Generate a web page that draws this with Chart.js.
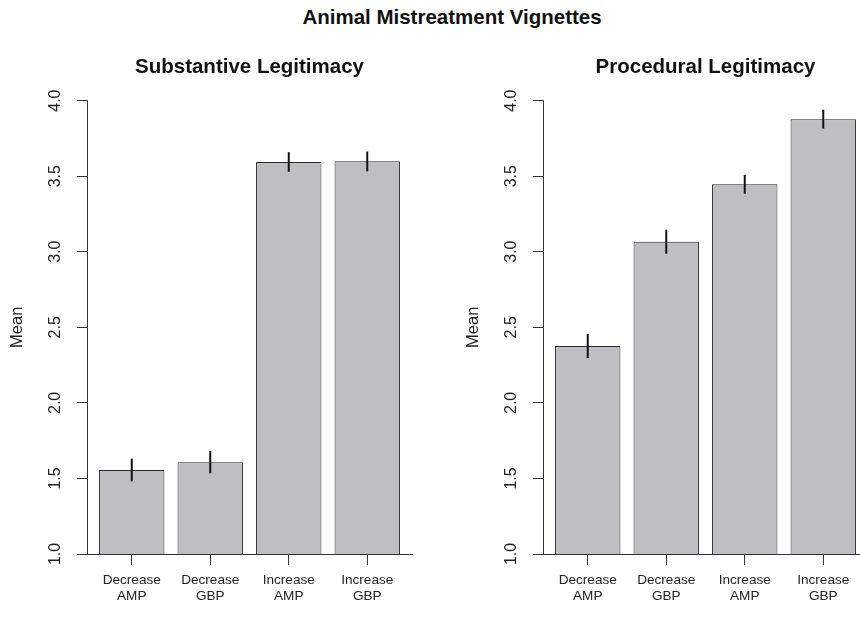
<!DOCTYPE html>
<html>
<head>
<meta charset="utf-8">
<script src="https://cdn.jsdelivr.net/npm/chart.js@4"></script>
<style>
  body { margin: 0; width: 860px; height: 622px; overflow: hidden; background: #fff; position: relative; }
  #mainTitle { position: absolute; left: 0; width: 904px; top: 7px; text-align: center;
    font: bold 20.5px "Liberation Sans", Arial, sans-serif; line-height: 20.5px; color: #111; white-space: nowrap; }
  canvas { position: absolute; top: 0; }
  #substantive { left: 0; }
  #procedural { left: 456px; }
</style>
</head>
<body>
<div id="mainTitle">Animal Mistreatment Vignettes</div>
<canvas id="substantive" width="430" height="622"></canvas>
<canvas id="procedural" width="430" height="622"></canvas>
<script>
const categories = [['Decrease', 'AMP'], ['Decrease', 'GBP'], ['Increase', 'AMP'], ['Increase', 'GBP']];
const meanTicks = [1, 1.5, 2, 2.5, 3, 3.5, 4];

const substantiveMeans = [1.556, 1.607, 3.594, 3.598];
const substantiveLower = [1.481, 1.534, 3.529, 3.532];
const substantiveUpper = [1.631, 1.681, 3.659, 3.663];

const proceduralMeans = [2.377, 3.066, 3.446, 3.876];
const proceduralLower = [2.296, 2.987, 3.384, 3.815];
const proceduralUpper = [2.457, 3.146, 3.508, 3.940];

const FONT = '"Liberation Sans", Arial, sans-serif';
const AXIS = '#333';

// vertical error lines on top of each bar
const errorBars = {
    id: 'errorBars',
    afterDatasetsDraw(chart, args, opts) {
        const ctx = chart.ctx;
        const y = chart.scales.y;
        const meta = chart.getDatasetMeta(0);
        ctx.save();
        ctx.strokeStyle = '#111';
        ctx.lineWidth = 2;
        meta.data.forEach((bar, i) => {
            ctx.beginPath();
            ctx.moveTo(bar.x, y.getPixelForValue(opts.lower[i]));
            ctx.lineTo(bar.x, y.getPixelForValue(opts.upper[i]));
            ctx.stroke();
        });
        ctx.restore();
    }
};

function makePanel(id, title, means, lower, upper) {
    const ctx = document.getElementById(id).getContext('2d');
    new Chart(ctx, {
        type: 'bar',
        data: {
            datasets: [{
                data: means.map((m, i) => ({ x: i + 1, y: m })),
                backgroundColor: '#bebfc3',
                borderColor: '#2a2a2a',
                borderWidth: 1,
                borderSkipped: false,
                barPercentage: 1 / 1.2,
                categoryPercentage: 1
            }]
        },
        options: {
            responsive: false,
            devicePixelRatio: 1,
            animation: false,
            layout: { padding: { left: 0, right: 18, top: 0, bottom: 0 } },
            plugins: {
                legend: { display: false },
                tooltip: { enabled: false },
                title: {
                    display: true,
                    text: title,
                    fullSize: false,
                    color: '#111',
                    font: { family: FONT, size: 20.5, weight: 'bold', lineHeight: 1.2 },
                    padding: { top: 55, bottom: 21 }
                },
                errorBars: { lower: lower, upper: upper }
            },
            scales: {
                x: {
                    type: 'linear',
                    min: 0.43,
                    max: 4.57,
                    offset: false,
                    afterBuildTicks: scale => { scale.ticks = categories.map((c, i) => ({ value: i + 1 })); },
                    afterFit: scale => { scale.height = 68; },
                    grid: { display: true, offset: false, drawOnChartArea: false, tickLength: 11, color: AXIS, lineWidth: 1 },
                    border: { display: true, color: AXIS, width: 1 },
                    ticks: {
                        padding: 7,
                        color: '#222',
                        maxRotation: 0,
                        autoSkip: false,
                        font: { family: FONT, size: 13.6, lineHeight: 1.2 },
                        callback: v => categories[v - 1]
                    }
                },
                y: {
                    min: 1,
                    max: 4,
                    afterBuildTicks: scale => { scale.ticks = meanTicks.map(v => ({ value: v })); },
                    afterFit: scale => { scale.width = 87; },
                    grid: { display: true, drawOnChartArea: false, tickLength: 10, color: AXIS, lineWidth: 1 },
                    border: { display: true, color: AXIS, width: 1 },
                    ticks: {
                        minRotation: 90,
                        maxRotation: 90,
                        crossAlign: 'center',
                        padding: 10,
                        color: '#222',
                        font: { family: FONT, size: 16 },
                        callback: v => v.toFixed(1)
                    },
                    title: {
                        display: true,
                        text: 'Mean',
                        color: '#222',
                        font: { family: FONT, size: 16.5, lineHeight: 1.2 },
                        padding: { top: 8, bottom: 0 }
                    }
                }
            }
        },
        plugins: [errorBars]
    });
}

makePanel('substantive', 'Substantive Legitimacy', substantiveMeans, substantiveLower, substantiveUpper);
makePanel('procedural', 'Procedural Legitimacy', proceduralMeans, proceduralLower, proceduralUpper);
</script>
</body>
</html>
